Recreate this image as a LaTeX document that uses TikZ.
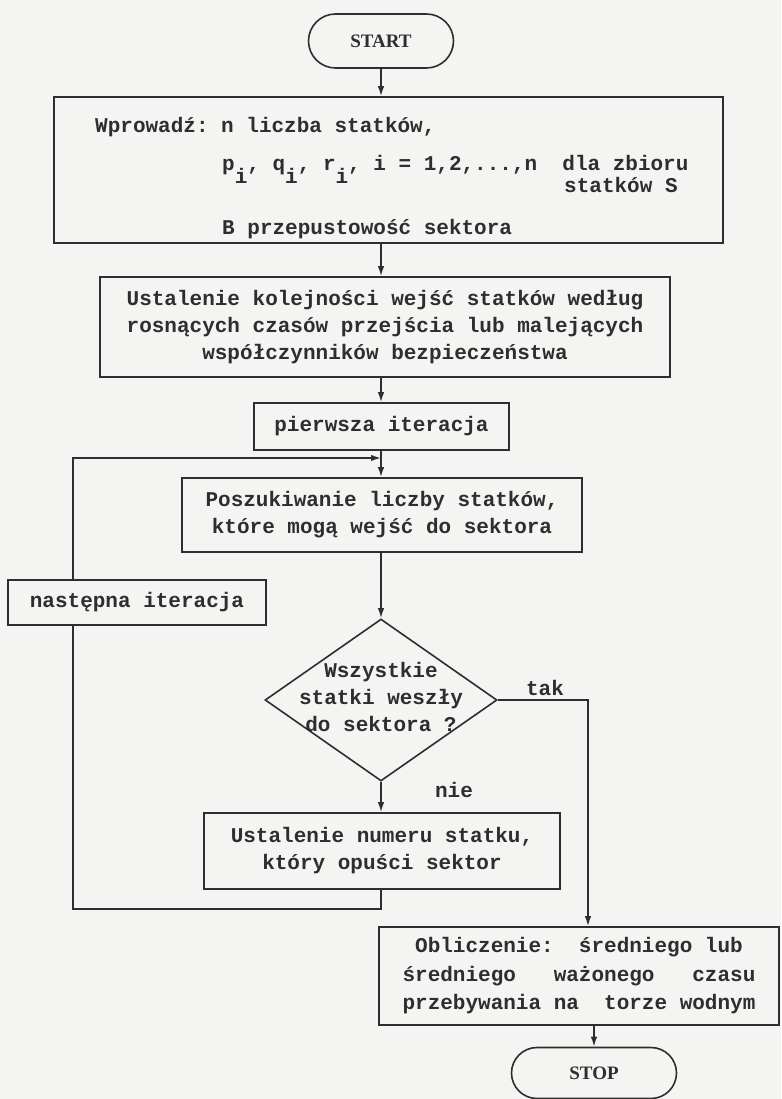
\documentclass[tikz,border=0pt]{standalone}
\usepackage{fontspec}
\setmonofont{Liberation Mono}
\newfontfamily\capfont{Liberation Serif}
\usetikzlibrary{shapes.geometric,shapes.misc,arrows.meta}
\definecolor{ink}{HTML}{2E2E2E}
\definecolor{paper}{HTML}{F4F4F2}
\tikzset{
  box/.style={draw=ink, line width=1.6pt, rectangle, inner sep=0pt, fill=paper},
  txt/.style={font=\ttfamily\bfseries\fontsize{21}{27}\selectfont, text=ink, align=center, inner sep=0pt},
  term/.style={draw=ink, line width=1.6pt, rounded rectangle, inner sep=0pt,
    font=\capfont\bfseries\fontsize{19}{22}\selectfont, text=ink},
  link/.style={draw=ink, line width=1.6pt},
  arr/.style={link, -{Latex[length=10pt,width=6.5pt]}},
}
\newcommand{\lowi}{\raisebox{-0.6em}{i}}
\begin{document}
\begin{tikzpicture}[x=1pt,y=-1pt]
\fill[paper] (0,0) rectangle (781,1099);
\useasboundingbox (0,0) rectangle (781,1099);

% terminals
\node[term, minimum width=145pt, minimum height=54pt] (start) at (381,41) {START};
\node[term, minimum width=165pt, minimum height=51pt] (stop) at (594,1073) {STOP};

% input box
\node[box, minimum width=669pt, minimum height=146pt] (input) at (388.5,170) {};
\node[txt, anchor=base west] (in1) at (95,133) {Wprowadź: n liczba statków,};
\node[txt, anchor=base west] (in2) at (222,171) {p\lowi, q\lowi, r\lowi, i = 1,2,...,n~~dla zbioru};
\node[txt, anchor=base west] (in3) at (564,193) {statków S};
\node[txt, anchor=base west] (in4) at (222,234) {B przepustowość sektora};

% process boxes
\node[box, txt, minimum width=570pt, minimum height=100pt] (order) at (385,327)
  {Ustalenie kolejności wejść statków według\\rosnących czasów przejścia lub malejących\\współczynników bezpieczeństwa};
\node[box, txt, minimum width=255pt, minimum height=47pt] (first) at (381.5,426.5) {pierwsza iteracja};
\node[box, txt, minimum width=400pt, minimum height=74pt] (search) at (382,515)
  {Poszukiwanie liczby statków,\\które mogą wejść do sektora};
\node[box, txt, minimum width=258pt, minimum height=45pt] (next) at (137,602.5) {następna iteracja};

% decision
\node[draw=ink, line width=1.6pt, diamond, inner sep=0pt, minimum width=232pt, minimum height=162pt, fill=paper] (dec) at (381,700) {};
\node[txt] (dectext) at (381,697) {Wszystkie\\statki weszły\\do sektora ?};

\node[box, txt, minimum width=356pt, minimum height=76pt] (numer) at (382,851)
  {Ustalenie numeru statku,\\który opuści sektor};
\node[box, txt, font=\ttfamily\bfseries\fontsize{21}{28.5}\selectfont, minimum width=400pt, minimum height=98pt] (calc) at (579,976)
  {Obliczenie:~~średniego lub\\średniego~~~ważonego~~~czasu\\przebywania na~~torze wodnym};

% labels
\node[txt] (tak) at (545,688) {tak};
\node[txt] (nie) at (454,790) {nie};

% helper coordinates
\coordinate (join) at (381,458);
\coordinate (takx) at (588,0);
\coordinate (loopx) at (73,0);

% connectors
\draw[arr] (start.south) -- (start.south |- input.north);
\draw[arr] (input.south -| start.south) -- (order.north -| start.south);
\draw[arr] (order.south -| start.south) -- (first.north -| start.south);
\draw[arr] (first.south -| start.south) -- (search.north -| start.south);
\draw[arr] (next.north -| loopx) |- (join);
\draw[arr] (search.south -| dec.north) -- (dec.north);
\draw[arr] (dec.south) -- (numer.north -| dec.south);
\draw[link] (numer.south -| dec.south) -- ++(0,19) -| (next.south -| loopx);
\draw[arr] (dec.east) -| (calc.north -| takx);
\draw[arr] (calc.south -| stop.north) -- (stop.north);
\end{tikzpicture}
\end{document}
